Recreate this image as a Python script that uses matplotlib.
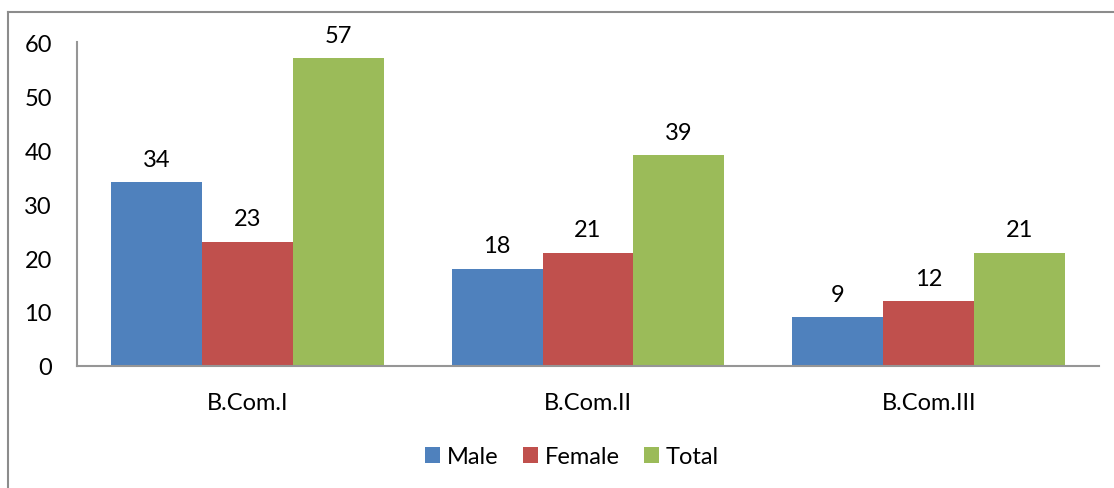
import matplotlib
matplotlib.use("Agg")
import matplotlib.pyplot as plt
from matplotlib.lines import Line2D
import numpy as np

categories = ["B.Com.I", "B.Com.II", "B.Com.III"]
series_names = ["Male", "Female", "Total"]
male = [34, 18, 9]
female = [23, 21, 12]
total = [57, 39, 21]
colors = ["#4F81BD", "#C0504D", "#9BBB59"]
yticks = [0, 10, 20, 30, 40, 50, 60]

plt.rcParams['font.family'] = ['Lato', 'DejaVu Sans']
FS = 17

fig = plt.figure(figsize=(11.14, 4.89), dpi=100)
ax = fig.add_axes([77/1114, 1-367/489, (1099-77)/1114, (367-43)/489])

x = np.arange(len(categories))
w = 1/(3+0.75)
for i, (name, vals) in enumerate(zip(series_names, [male, female, total])):
    bars = ax.bar(x + (i-1)*w, vals, w, color=colors[i], label=name)
    for b, v in zip(bars, vals):
        ax.annotate(str(v), (b.get_x()+b.get_width()/2, v), xytext=(0, 9),
                    textcoords='offset points', ha='center', va='bottom', fontsize=FS)

ax.set_xlim(-0.5, len(categories)-0.5)
ax.set_ylim(0, 60)
ax.set_yticks(yticks)
ax.set_xticks(x)
ax.set_xticklabels(categories)
ax.tick_params(axis='both', length=0, labelsize=FS)
ax.tick_params(axis='y', pad=18)
ax.tick_params(axis='x', pad=19)
for s in ['top', 'right']:
    ax.spines[s].set_visible(False)
for s in ['left', 'bottom']:
    ax.spines[s].set_color('#969696')
    ax.spines[s].set_linewidth(1.5)

leg = fig.legend(loc='center', bbox_to_anchor=(572/1114, 1-458/489), ncol=3, frameon=False,
                 fontsize=FS, handlelength=0.65, handleheight=0.65, columnspacing=1.0, handletextpad=0.3)

fig.add_artist(Line2D([8/1114, 1], [1-13/489, 1-13/489], transform=fig.transFigure, color='#8C8C8C', lw=1.5))
fig.add_artist(Line2D([8/1114, 8/1114], [0, 1-13/489], transform=fig.transFigure, color='#8C8C8C', lw=1.5))

fig.savefig("out.png", dpi=100, facecolor='white')
